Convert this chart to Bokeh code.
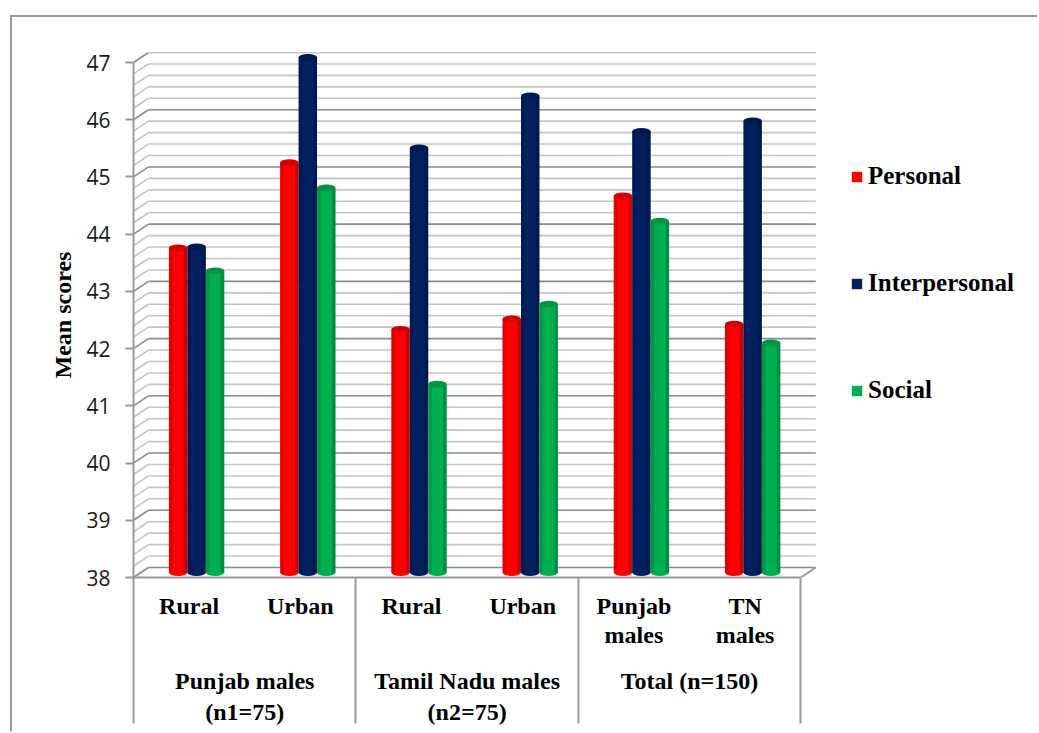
from bokeh.plotting import figure
from bokeh.models import (Range1d, LinearAxis, FixedTicker, Legend, LegendItem,
                          ColumnDataSource)
from bokeh.embed import file_html
from bokeh.resources import INLINE
import numpy as np

# ---------------- data ----------------
categories = ["Rural", "Urban", "Rural", "Urban", "Punjab\nmales", "TN\nmales"]
groups = ["Punjab males\n(n1=75)", "Tamil Nadu males\n(n2=75)", "Total (n=150)"]
group_centers = [0.5, 2.5, 4.5]
series_names = ["Personal", "Interpersonal", "Social"]
personal = [43.67, 45.16, 42.25, 42.43, 44.58, 42.34]
interpersonal = [43.69, 47.00, 45.42, 46.33, 45.71, 45.89]
social = [43.27, 44.72, 41.29, 42.69, 44.14, 42.01]
y_ticks = [38, 39, 40, 41, 42, 43, 44, 45, 46, 47]
colors = ["#FF0000", "#002060", "#00B050"]
cap_colors = ["#D40000", "#001A4D", "#00963F"]

# ---------------- geometry (3-D look) ----------------
Y0, Y1 = 38, 47
DX = 0.135      # depth offset in category units
DY = 0.175      # depth offset in value units
BW = 0.166      # bar width
CAP = 0.12      # cylinder cap height (value units)

p = figure(width=1027, height=716, output_backend="svg", toolbar_location=None,
           x_range=Range1d(-0.5, 7.647), y_range=Range1d(Y0, Y1 + DY),
           min_border_left=121, min_border_right=0, min_border_top=35,
           min_border_bottom=156)
p.styles = {"margin-left": "10px", "margin-top": "15px",
            "border-left": "2px solid #9a9a9a", "border-top": "2px solid #9a9a9a"}
p.outline_line_color = None
p.xgrid.visible = False
p.ygrid.visible = False
p.background_fill_color = "white"
p.border_fill_color = "white"

# back wall grid + left wall diagonals
levels = np.round(np.arange(Y0, Y1 + 1e-6, 0.2), 1)
major = [lv for lv in levels if abs(lv - round(lv)) < 1e-6]
minor = [lv for lv in levels if abs(lv - round(lv)) >= 1e-6]
for lv_list, col in ((minor, "#c4c4c4"), (major, "#8a8a8a")):
    lv_arr = np.array(lv_list)
    p.segment(x0=np.full(len(lv_arr), -0.5 + DX), y0=lv_arr + DY,
              x1=np.full(len(lv_arr), 5.5 + DX), y1=lv_arr + DY,
              line_color=col, line_width=1.6)
    p.segment(x0=np.full(len(lv_arr), -0.5), y0=lv_arr,
              x1=np.full(len(lv_arr), -0.5 + DX), y1=lv_arr + DY,
              line_color=col, line_width=1.6)
# right floor edge
p.segment(x0=[5.5], y0=[Y0], x1=[5.5 + DX], y1=[Y0 + DY], line_color="#9a9a9a", line_width=2)

# ---------------- cylinders ----------------
xs = np.arange(len(categories))
bar_renderers = []
for k, (vals, col, ccol) in enumerate(zip([personal, interpersonal, social], colors, cap_colors)):
    xc = xs + (k - 1) * BW + DX / 2
    top = np.array(vals) + DY / 2
    src = ColumnDataSource(dict(x=xc, top=top, bottom=np.full(len(xc), Y0 + DY / 2)))
    p.ellipse(x="x", y="bottom", width=BW, height=CAP, source=src, fill_color=col, line_color=None)
    r = p.vbar(x="x", width=BW, top="top", bottom="bottom", source=src,
               fill_color=col, line_color=None)
    p.vbar(x=xc - BW * 0.4, width=BW * 0.2, top=top, bottom=Y0 + DY / 2,
           fill_color="black", fill_alpha=0.12, line_color=None)
    p.vbar(x=xc + BW * 0.4, width=BW * 0.2, top=top, bottom=Y0 + DY / 2,
           fill_color="black", fill_alpha=0.18, line_color=None)
    p.ellipse(x="x", y="top", width=BW, height=CAP, source=src, fill_color=ccol, line_color=None)
    bar_renderers.append(r)

# ---------------- axes ----------------
GRAY = "#9a9a9a"
ya = p.yaxis[0]
ya.ticker = FixedTicker(ticks=y_ticks, minor_ticks=[])
ya.bounds = (Y0, Y1)
ya.axis_line_color = GRAY
ya.axis_line_width = 2
ya.major_tick_out = 8
ya.major_tick_in = 0
ya.major_tick_line_color = GRAY
ya.major_tick_line_width = 2
ya.minor_tick_out = 0
ya.minor_tick_in = 0
ya.major_label_text_font = "Open Sans"
ya.major_label_text_font_size = "21px"
ya.major_label_text_color = "#1a1a1a"
ya.major_label_standoff = 15
ya.axis_label = "Mean scores"
ya.axis_label_text_font = "Liberation Serif"
ya.axis_label_text_font_style = "bold"
ya.axis_label_text_font_size = "24px"
ya.axis_label_text_color = "black"
ya.axis_label_standoff = 7

SEP = 146
xa = p.xaxis[0]
xa.ticker = FixedTicker(ticks=list(xs), minor_ticks=[-0.5, 1.5, 3.5, 5.5])
xa.bounds = (-0.5, 5.5)
xa.axis_line_color = GRAY
xa.axis_line_width = 2
xa.major_tick_out = 0
xa.major_tick_in = 0
xa.major_tick_line_color = None
xa.minor_tick_out = SEP
xa.minor_tick_in = 0
xa.minor_tick_line_color = GRAY
xa.minor_tick_line_width = 2
xa.major_label_overrides = {int(i): c for i, c in zip(xs, categories)}
xa.major_label_text_font = "Liberation Serif"
xa.major_label_text_font_style = "bold"
xa.major_label_text_font_size = "24px"
xa.major_label_text_line_height = 1.15
xa.major_label_text_color = "black"
xa.major_label_standoff = 15 - SEP

ga = LinearAxis(ticker=FixedTicker(ticks=group_centers, minor_ticks=[]))
ga.axis_line_color = None
ga.major_tick_line_color = None
ga.minor_tick_line_color = None
ga.major_tick_out = 0
ga.major_tick_in = 0
ga.major_label_overrides = {c: g for c, g in zip(group_centers, groups)}
ga.major_label_text_font = "Liberation Serif"
ga.major_label_text_font_style = "bold"
ga.major_label_text_font_size = "24px"
ga.major_label_text_line_height = 1.22
ga.major_label_text_color = "black"
ga.major_label_standoff = 16
p.add_layout(ga, "below")

# ---------------- legend ----------------
legend = Legend(items=[LegendItem(label=n, renderers=[r]) for n, r in zip(series_names, bar_renderers)],
                location=(717, 173), orientation="vertical",
                glyph_width=13, glyph_height=13, label_standoff=5, spacing=79,
                padding=0, margin=0, border_line_color=None, background_fill_alpha=0,
                label_text_font="Liberation Serif", label_text_font_style="bold",
                label_text_font_size="25px", label_text_color="black")
p.add_layout(legend)

open("out.html", "w").write(file_html(p, INLINE))
